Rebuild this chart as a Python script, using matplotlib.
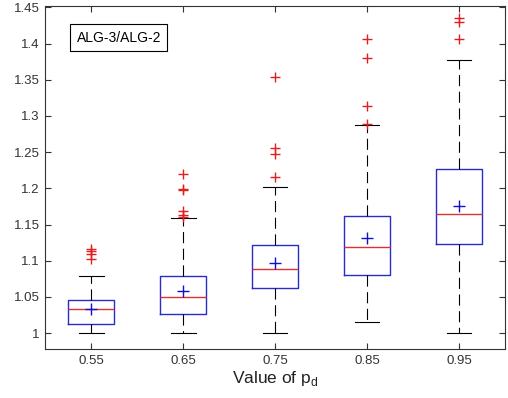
import matplotlib
matplotlib.use("Agg")
import matplotlib.pyplot as plt

plt.rcParams['font.family'] = ['Liberation Sans', 'DejaVu Sans']

pd_values = ['0.55', '0.65', '0.75', '0.85', '0.95']

# box statistics
q1 = [1.013, 1.027, 1.062, 1.080, 1.123]
medians = [1.033, 1.050, 1.088, 1.119, 1.165]
q3 = [1.046, 1.079, 1.122, 1.162, 1.227]
means = [1.033, 1.058, 1.097, 1.131, 1.175]
whislo = [1.000, 1.000, 1.000, 1.016, 1.000]
whishi = [1.079, 1.159, 1.202, 1.287, 1.378]
outliers = [
    [1.116, 1.113, 1.109, 1.102],
    [1.220, 1.199, 1.198, 1.169, 1.163, 1.160],
    [1.354, 1.256, 1.247, 1.216],
    [1.406, 1.380, 1.314, 1.289],
    [1.435, 1.430, 1.406],
]

stats = []
for i in range(len(pd_values)):
    stats.append({'q1': q1[i], 'med': medians[i], 'q3': q3[i], 'mean': means[i],
                  'whislo': whislo[i], 'whishi': whishi[i], 'fliers': outliers[i]})

fig = plt.figure(figsize=(5.08, 3.98), dpi=100)
ax = fig.add_axes([0.089, 0.123, 0.905, 0.862])

ax.bxp(stats, positions=range(1, 6), widths=0.5, showmeans=True, capwidths=0.27,
       boxprops=dict(color='#2b2bc8', linewidth=1.0),
       medianprops=dict(color='#e03030', linewidth=1.0),
       whiskerprops=dict(color='black', linewidth=0.8, linestyle=(0, (10, 5))),
       capprops=dict(color='black', linewidth=0.8),
       flierprops=dict(marker='+', markeredgecolor='#e02020', markersize=7, markeredgewidth=1.0),
       meanprops=dict(marker='+', markeredgecolor='#1010d0', markersize=8, markeredgewidth=1.0))

ax.set_xlim(0.5, 5.5)
ax.set_ylim(0.978, 1.452)
ax.set_xticks(range(1, 6))
ax.set_xticklabels(pd_values)
yt = [1, 1.05, 1.1, 1.15, 1.2, 1.25, 1.3, 1.35, 1.4, 1.45]
ax.set_yticks(yt)
ax.set_yticklabels(['1', '1.05', '1.1', '1.15', '1.2', '1.25', '1.3', '1.35', '1.4', '1.45'])
ax.tick_params(direction='in', top=True, right=True, length=4, labelsize=9.5,
               colors='#333333', width=0.8, pad=4)
for s in ax.spines.values():
    s.set_color('#333333')
    s.set_linewidth(0.8)

ax.set_xlabel('Value of p$_\\mathregular{d}$', fontsize=12.5, color='#222222', labelpad=2)

ax.text(0.068, 0.908, 'ALG-3/ALG-2', transform=ax.transAxes, fontsize=10,
        va='center', ha='left',
        bbox=dict(boxstyle='square,pad=0.45', facecolor='white', edgecolor='black', linewidth=0.8))

fig.savefig('out.png', dpi=100)
